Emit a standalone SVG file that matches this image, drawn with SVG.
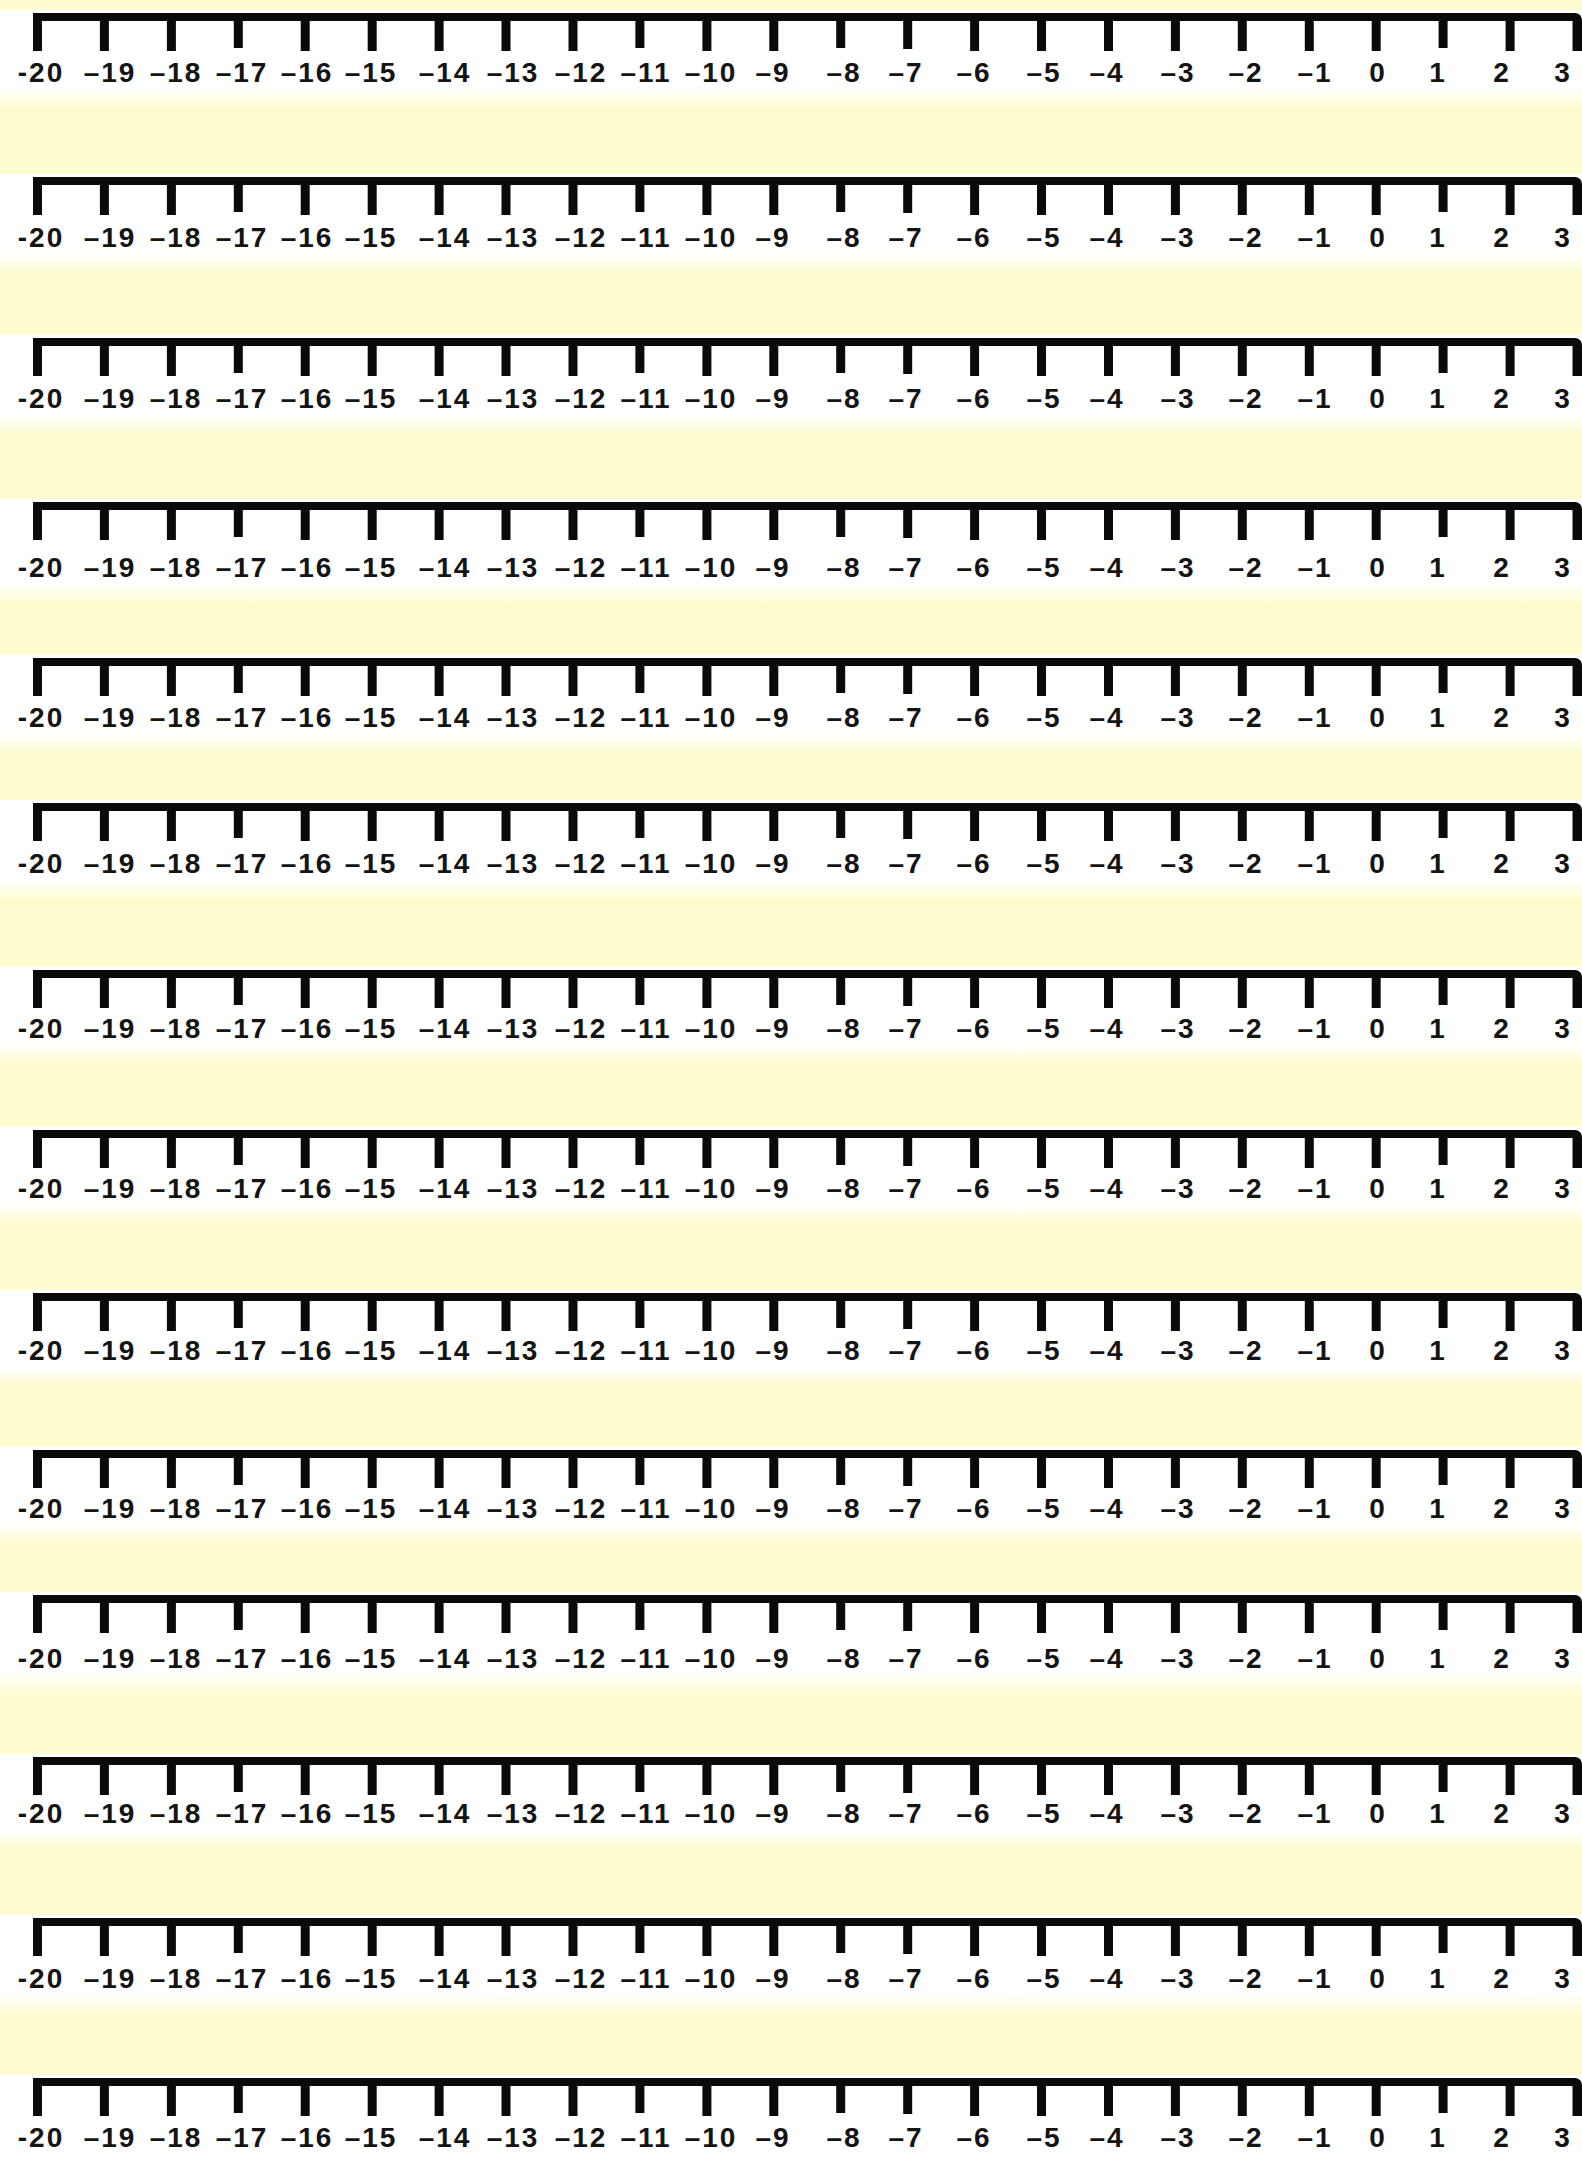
<svg xmlns="http://www.w3.org/2000/svg" width="1582" height="2162" viewBox="0 0 1582 2162">
<style>
.lb text{font-family:"Liberation Sans",Arial,sans-serif;font-weight:bold;font-size:28px;letter-spacing:2px;fill:#141414;text-anchor:middle}
.tk{fill:none;stroke:#0a0a0a;stroke-width:9}
.ax{fill:#0a0a0a}
.band{fill:url(#fade)}
</style>
<defs>
<linearGradient id="fade" x1="0" y1="0" x2="0" y2="1">
<stop offset="0" stop-color="#ffffff"/>
<stop offset="0.78" stop-color="#ffffff"/>
<stop offset="1" stop-color="#fffccf"/>
</linearGradient>
<path id="axis" class="ax" d="M33 0H1575a7 7 0 0 1 7 7V38h-9.5V8H33Z"/>
<path id="ticks" class="tk" d="M37.5 0V38M104.4 0V38M171.4 0V38M238.3 0V35M305.2 0V38M372.2 0V38M439.1 0V38M506 0V38M573 0V38M639.9 0V35M706.9 0V38M773.8 0V38M840.7 0V35M907.7 0V36M974.6 0V38M1041.5 0V38M1108.5 0V38M1175.4 0V38M1242.3 0V38M1309.3 0V38M1376.2 0V38M1443.1 0V35M1510.1 0V38"/>
</defs>
<rect width="1582" height="2162" fill="#fffccf"/>
<g id="bands">
<rect class="band" x="0" y="10" width="1582" height="100"/>
<rect class="band" x="0" y="174" width="1582" height="101"/>
<rect class="band" x="0" y="335" width="1582" height="101"/>
<rect class="band" x="0" y="499" width="1582" height="106"/>
<rect class="band" x="0" y="655" width="1582" height="100"/>
<rect class="band" x="0" y="800" width="1582" height="101"/>
<rect class="band" x="0" y="967" width="1582" height="99"/>
<rect class="band" x="0" y="1127" width="1582" height="99"/>
<rect class="band" x="0" y="1290" width="1582" height="98"/>
<rect class="band" x="0" y="1447" width="1582" height="99"/>
<rect class="band" x="0" y="1592" width="1582" height="104"/>
<rect class="band" x="0" y="1754" width="1582" height="97"/>
<rect class="band" x="0" y="1915" width="1582" height="101"/>
<rect x="0" y="2075" width="1582" height="87" fill="#ffffff"/>
</g>
<g id="numberline-1" transform="translate(0,13)"><use href="#axis"/><use href="#ticks"/><g class="lb" transform="translate(0,69)"><text x="41">-20</text><text x="110">–19</text><text x="176">–18</text><text x="242">–17</text><text x="307">–16</text><text x="371">–15</text><text x="445">–14</text><text x="513">–13</text><text x="581">–12</text><text x="646">–11</text><text x="711">–10</text><text x="773">–9</text><text x="844">–8</text><text x="906">–7</text><text x="974">–6</text><text x="1044">–5</text><text x="1107">–4</text><text x="1178">–3</text><text x="1246">–2</text><text x="1315">–1</text><text x="1378">0</text><text x="1438">1</text><text x="1502">2</text><text x="1563">3</text></g></g>
<g id="numberline-2" transform="translate(0,177)"><use href="#axis"/><use href="#ticks"/><g class="lb" transform="translate(0,70)"><text x="41">-20</text><text x="110">–19</text><text x="176">–18</text><text x="242">–17</text><text x="307">–16</text><text x="371">–15</text><text x="445">–14</text><text x="513">–13</text><text x="581">–12</text><text x="646">–11</text><text x="711">–10</text><text x="773">–9</text><text x="844">–8</text><text x="906">–7</text><text x="974">–6</text><text x="1044">–5</text><text x="1107">–4</text><text x="1178">–3</text><text x="1246">–2</text><text x="1315">–1</text><text x="1378">0</text><text x="1438">1</text><text x="1502">2</text><text x="1563">3</text></g></g>
<g id="numberline-3" transform="translate(0,338)"><use href="#axis"/><use href="#ticks"/><g class="lb" transform="translate(0,70)"><text x="41">-20</text><text x="110">–19</text><text x="176">–18</text><text x="242">–17</text><text x="307">–16</text><text x="371">–15</text><text x="445">–14</text><text x="513">–13</text><text x="581">–12</text><text x="646">–11</text><text x="711">–10</text><text x="773">–9</text><text x="844">–8</text><text x="906">–7</text><text x="974">–6</text><text x="1044">–5</text><text x="1107">–4</text><text x="1178">–3</text><text x="1246">–2</text><text x="1315">–1</text><text x="1378">0</text><text x="1438">1</text><text x="1502">2</text><text x="1563">3</text></g></g>
<g id="numberline-4" transform="translate(0,502)"><use href="#axis"/><use href="#ticks"/><g class="lb" transform="translate(0,75)"><text x="41">-20</text><text x="110">–19</text><text x="176">–18</text><text x="242">–17</text><text x="307">–16</text><text x="371">–15</text><text x="445">–14</text><text x="513">–13</text><text x="581">–12</text><text x="646">–11</text><text x="711">–10</text><text x="773">–9</text><text x="844">–8</text><text x="906">–7</text><text x="974">–6</text><text x="1044">–5</text><text x="1107">–4</text><text x="1178">–3</text><text x="1246">–2</text><text x="1315">–1</text><text x="1378">0</text><text x="1438">1</text><text x="1502">2</text><text x="1563">3</text></g></g>
<g id="numberline-5" transform="translate(0,658)"><use href="#axis"/><use href="#ticks"/><g class="lb" transform="translate(0,69)"><text x="41">-20</text><text x="110">–19</text><text x="176">–18</text><text x="242">–17</text><text x="307">–16</text><text x="371">–15</text><text x="445">–14</text><text x="513">–13</text><text x="581">–12</text><text x="646">–11</text><text x="711">–10</text><text x="773">–9</text><text x="844">–8</text><text x="906">–7</text><text x="974">–6</text><text x="1044">–5</text><text x="1107">–4</text><text x="1178">–3</text><text x="1246">–2</text><text x="1315">–1</text><text x="1378">0</text><text x="1438">1</text><text x="1502">2</text><text x="1563">3</text></g></g>
<g id="numberline-6" transform="translate(0,803)"><use href="#axis"/><use href="#ticks"/><g class="lb" transform="translate(0,70)"><text x="41">-20</text><text x="110">–19</text><text x="176">–18</text><text x="242">–17</text><text x="307">–16</text><text x="371">–15</text><text x="445">–14</text><text x="513">–13</text><text x="581">–12</text><text x="646">–11</text><text x="711">–10</text><text x="773">–9</text><text x="844">–8</text><text x="906">–7</text><text x="974">–6</text><text x="1044">–5</text><text x="1107">–4</text><text x="1178">–3</text><text x="1246">–2</text><text x="1315">–1</text><text x="1378">0</text><text x="1438">1</text><text x="1502">2</text><text x="1563">3</text></g></g>
<g id="numberline-7" transform="translate(0,970)"><use href="#axis"/><use href="#ticks"/><g class="lb" transform="translate(0,68)"><text x="41">-20</text><text x="110">–19</text><text x="176">–18</text><text x="242">–17</text><text x="307">–16</text><text x="371">–15</text><text x="445">–14</text><text x="513">–13</text><text x="581">–12</text><text x="646">–11</text><text x="711">–10</text><text x="773">–9</text><text x="844">–8</text><text x="906">–7</text><text x="974">–6</text><text x="1044">–5</text><text x="1107">–4</text><text x="1178">–3</text><text x="1246">–2</text><text x="1315">–1</text><text x="1378">0</text><text x="1438">1</text><text x="1502">2</text><text x="1563">3</text></g></g>
<g id="numberline-8" transform="translate(0,1130)"><use href="#axis"/><use href="#ticks"/><g class="lb" transform="translate(0,68)"><text x="41">-20</text><text x="110">–19</text><text x="176">–18</text><text x="242">–17</text><text x="307">–16</text><text x="371">–15</text><text x="445">–14</text><text x="513">–13</text><text x="581">–12</text><text x="646">–11</text><text x="711">–10</text><text x="773">–9</text><text x="844">–8</text><text x="906">–7</text><text x="974">–6</text><text x="1044">–5</text><text x="1107">–4</text><text x="1178">–3</text><text x="1246">–2</text><text x="1315">–1</text><text x="1378">0</text><text x="1438">1</text><text x="1502">2</text><text x="1563">3</text></g></g>
<g id="numberline-9" transform="translate(0,1293)"><use href="#axis"/><use href="#ticks"/><g class="lb" transform="translate(0,67)"><text x="41">-20</text><text x="110">–19</text><text x="176">–18</text><text x="242">–17</text><text x="307">–16</text><text x="371">–15</text><text x="445">–14</text><text x="513">–13</text><text x="581">–12</text><text x="646">–11</text><text x="711">–10</text><text x="773">–9</text><text x="844">–8</text><text x="906">–7</text><text x="974">–6</text><text x="1044">–5</text><text x="1107">–4</text><text x="1178">–3</text><text x="1246">–2</text><text x="1315">–1</text><text x="1378">0</text><text x="1438">1</text><text x="1502">2</text><text x="1563">3</text></g></g>
<g id="numberline-10" transform="translate(0,1450)"><use href="#axis"/><use href="#ticks"/><g class="lb" transform="translate(0,68)"><text x="41">-20</text><text x="110">–19</text><text x="176">–18</text><text x="242">–17</text><text x="307">–16</text><text x="371">–15</text><text x="445">–14</text><text x="513">–13</text><text x="581">–12</text><text x="646">–11</text><text x="711">–10</text><text x="773">–9</text><text x="844">–8</text><text x="906">–7</text><text x="974">–6</text><text x="1044">–5</text><text x="1107">–4</text><text x="1178">–3</text><text x="1246">–2</text><text x="1315">–1</text><text x="1378">0</text><text x="1438">1</text><text x="1502">2</text><text x="1563">3</text></g></g>
<g id="numberline-11" transform="translate(0,1595)"><use href="#axis"/><use href="#ticks"/><g class="lb" transform="translate(0,73)"><text x="41">-20</text><text x="110">–19</text><text x="176">–18</text><text x="242">–17</text><text x="307">–16</text><text x="371">–15</text><text x="445">–14</text><text x="513">–13</text><text x="581">–12</text><text x="646">–11</text><text x="711">–10</text><text x="773">–9</text><text x="844">–8</text><text x="906">–7</text><text x="974">–6</text><text x="1044">–5</text><text x="1107">–4</text><text x="1178">–3</text><text x="1246">–2</text><text x="1315">–1</text><text x="1378">0</text><text x="1438">1</text><text x="1502">2</text><text x="1563">3</text></g></g>
<g id="numberline-12" transform="translate(0,1757)"><use href="#axis"/><use href="#ticks"/><g class="lb" transform="translate(0,66)"><text x="41">-20</text><text x="110">–19</text><text x="176">–18</text><text x="242">–17</text><text x="307">–16</text><text x="371">–15</text><text x="445">–14</text><text x="513">–13</text><text x="581">–12</text><text x="646">–11</text><text x="711">–10</text><text x="773">–9</text><text x="844">–8</text><text x="906">–7</text><text x="974">–6</text><text x="1044">–5</text><text x="1107">–4</text><text x="1178">–3</text><text x="1246">–2</text><text x="1315">–1</text><text x="1378">0</text><text x="1438">1</text><text x="1502">2</text><text x="1563">3</text></g></g>
<g id="numberline-13" transform="translate(0,1918)"><use href="#axis"/><use href="#ticks"/><g class="lb" transform="translate(0,70)"><text x="41">-20</text><text x="110">–19</text><text x="176">–18</text><text x="242">–17</text><text x="307">–16</text><text x="371">–15</text><text x="445">–14</text><text x="513">–13</text><text x="581">–12</text><text x="646">–11</text><text x="711">–10</text><text x="773">–9</text><text x="844">–8</text><text x="906">–7</text><text x="974">–6</text><text x="1044">–5</text><text x="1107">–4</text><text x="1178">–3</text><text x="1246">–2</text><text x="1315">–1</text><text x="1378">0</text><text x="1438">1</text><text x="1502">2</text><text x="1563">3</text></g></g>
<g id="numberline-14" transform="translate(0,2078)"><use href="#axis"/><use href="#ticks"/><g class="lb" transform="translate(0,69)"><text x="41">-20</text><text x="110">–19</text><text x="176">–18</text><text x="242">–17</text><text x="307">–16</text><text x="371">–15</text><text x="445">–14</text><text x="513">–13</text><text x="581">–12</text><text x="646">–11</text><text x="711">–10</text><text x="773">–9</text><text x="844">–8</text><text x="906">–7</text><text x="974">–6</text><text x="1044">–5</text><text x="1107">–4</text><text x="1178">–3</text><text x="1246">–2</text><text x="1315">–1</text><text x="1378">0</text><text x="1438">1</text><text x="1502">2</text><text x="1563">3</text></g></g>
</svg>
